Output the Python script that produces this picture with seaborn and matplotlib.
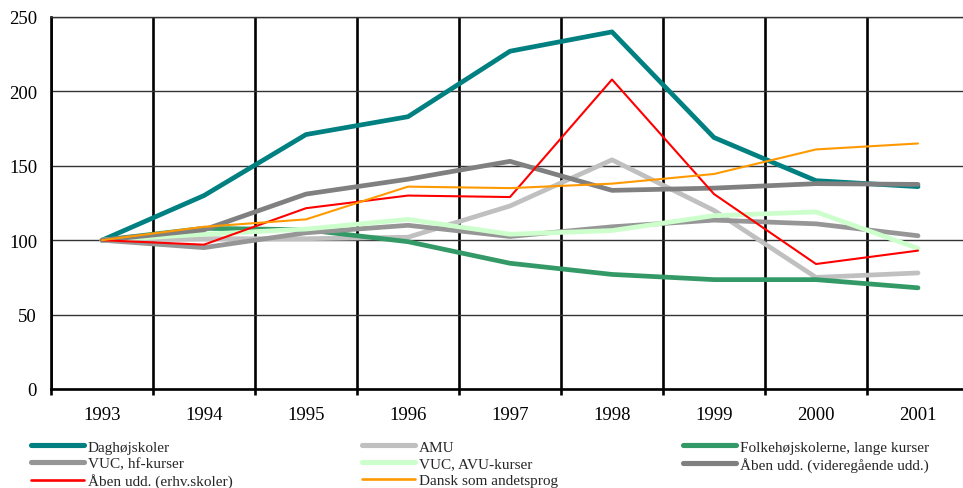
import numpy as np
import pandas as pd
import matplotlib
matplotlib.use("Agg")
import matplotlib.pyplot as plt
from matplotlib.lines import Line2D
import seaborn as sns

# Index values (1993 = 100) per education type
years = ["1993", "1994", "1995", "1996", "1997", "1998", "1999", "2000", "2001"]
daghojskoler = [100, 130, 171, 183, 227, 240, 169, 140, 136]
amu = [100, 101, 101, 102, 123, 154, 120, 75, 78]
folkehojskoler = [100, 108, 107, 99, 84.5, 77, 73.5, 73.5, 68]
vuc_hf = [100, 95, 105, 110, 102.5, 109, 113.5, 111, 103]
vuc_avu = [100, 104, 107.5, 114, 104, 106.5, 116.5, 119, 94.5]
aaben_videregaende = [100, 107, 131, 141, 153, 133.5, 135, 138, 137.5]
aaben_erhv = [100, 97, 121.5, 130, 129, 208, 131, 84, 93]
dansk = [100, 109, 114, 136, 135, 138, 144.5, 161, 165]

names = [
    "Daghøjskoler",
    "AMU",
    "Folkehøjskolerne, lange kurser",
    "VUC, hf-kurser",
    "VUC, AVU-kurser",
    "Åben udd. (videregående udd.)",
    "Åben udd. (erhv.skoler)",
    "Dansk som andetsprog",
]
values = [daghojskoler, amu, folkehojskoler, vuc_hf, vuc_avu,
          aaben_videregaende, aaben_erhv, dansk]
colors = ["#008080", "#C0C0C0", "#339966", "#969696", "#CCFFCC",
          "#808080", "#FF0000", "#FF9900"]
widths = [3.4, 3.4, 3.4, 3.4, 3.4, 3.4, 1.5, 1.5]

df = pd.DataFrame({
    "pos": np.tile(np.arange(len(years)), len(names)),
    "value": np.concatenate(values),
    "series": np.repeat(names, len(years)),
})

sns.set_theme(style="white")
plt.rcParams["font.family"] = ["Liberation Serif", "DejaVu Serif"]

fig = plt.figure(figsize=(9.63, 4.89), dpi=100)
ax = fig.add_axes([51 / 963, 99 / 489, 918 / 963, 372 / 489])

sns.lineplot(
    data=df, x="pos", y="value",
    hue="series", hue_order=names, palette=dict(zip(names, colors)),
    size="series", size_order=names, sizes=dict(zip(names, widths)),
    estimator=None, legend=False, ax=ax,
    solid_capstyle="round", solid_joinstyle="round",
)

ax.set_xlim(-0.5, len(years) - 0.5)
ax.set_ylim(0, 250)
ax.set_yticks(np.arange(0, 251, 50))
ax.set_xticks(np.arange(len(years)))
ax.set_xticklabels(years)
ax.set_xticks(np.arange(-0.5, len(years), 1.0), minor=True)
ax.set_xlabel("")
ax.set_ylabel("")

ax.set_axisbelow(True)
ax.grid(axis="x", which="minor", color="black", linewidth=1.9)
ax.grid(axis="x", which="major", visible=False)
ax.grid(axis="y", which="major", color="#333333", linewidth=1.0)

ax.tick_params(axis="x", which="major", length=0, pad=12, labelsize=13.5,
               colors="black")
ax.tick_params(axis="x", which="minor", direction="out", length=4.5,
               width=1.9, color="black", bottom=True)
ax.tick_params(axis="y", length=0, pad=10, labelsize=13.5, colors="black")

for side in ("left", "bottom"):
    ax.spines[side].set_color("black")
    ax.spines[side].set_linewidth(1.9)
ax.spines["top"].set_color("#333333")
ax.spines["top"].set_linewidth(1.0)
ax.spines["right"].set_visible(False)

# Legend: three columns, filled row by row
legend_widths = [3.7 if w > 2 else 1.9 for w in widths]
handles = [Line2D([], [], color=c, linewidth=w, solid_capstyle="round")
           for c, w in zip(colors, legend_widths)]
columns = [[0, 3, 6], [1, 4, 7], [2, 5]]
col_x = [31, 362, 683]
for xpix, idx in zip(col_x, columns):
    fig.legend(
        [handles[i] for i in idx], [names[i] for i in idx],
        loc="upper left", bbox_to_anchor=(xpix / 963, 1 - 441 / 489),
        frameon=False, fontsize=11, handlelength=3.5, handletextpad=0.2,
        borderpad=0, borderaxespad=0, labelspacing=0.2,
    )

fig.savefig("out.png", dpi=100)
